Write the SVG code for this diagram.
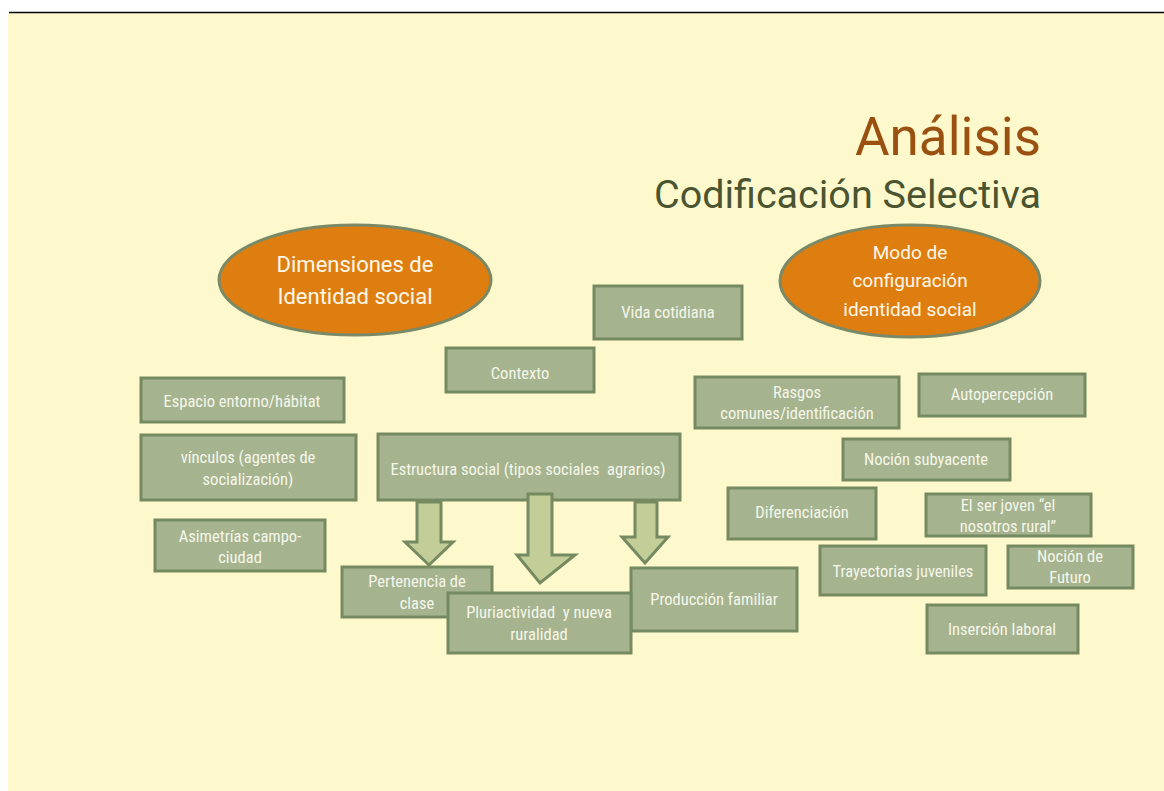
<svg xmlns="http://www.w3.org/2000/svg" width="1164" height="791" viewBox="0 0 1164 791">
  <defs>
    <style>
      .box { fill: #a5b48f; stroke: #768a62; stroke-width: 3; }
      .oval { fill: #de7e10; stroke: #7a8a68; stroke-width: 3; }
      .arrow { fill: #c3cd98; stroke: #758a61; stroke-width: 3; stroke-linejoin: miter; }
      .lbl { font-family: "Liberation Sans Narrow", "Roboto Condensed", "Liberation Sans", sans-serif; font-size: 16.5px; fill: #f6f6ea; text-anchor: middle; white-space: pre; }
      .olbl { font-family: Roboto, "Liberation Sans", sans-serif; fill: #fff8ea; text-anchor: middle; }
      .title { font-family: Roboto, "Liberation Sans", sans-serif; text-anchor: end; }
    </style>
  </defs>

  <!-- page -->
  <rect x="0" y="0" width="1164" height="791" fill="#ffffff"/>
  <rect x="8" y="13" width="1156" height="778" fill="#fef9cc"/>
  <line x1="9" y1="12.5" x2="1164" y2="12.5" stroke="#000" stroke-width="1.5"/>

  <!-- heading -->
  <text class="title" x="1041" y="155" font-size="53" fill="#9a5010">Análisis</text>
  <text class="title" x="1041" y="208" font-size="39.5" fill="#4a5430">Codificación Selectiva</text>

  <!-- category ovals -->
  <g id="dimensiones">
    <ellipse class="oval" cx="355" cy="280" rx="136" ry="55"/>
    <text class="olbl" font-size="22" x="355" y="272">Dimensiones de</text>
    <text class="olbl" font-size="22" x="355" y="304">Identidad social</text>
  </g>
  <g id="modo">
    <ellipse class="oval" cx="910" cy="281" rx="130" ry="56"/>
    <text class="olbl" font-size="19" x="910" y="259">Modo de</text>
    <text class="olbl" font-size="19" x="910" y="287">configuración</text>
    <text class="olbl" font-size="19" x="910" y="316">identidad social</text>
  </g>

  <!-- left column -->
  <g id="vida-cotidiana">
    <rect class="box" x="594" y="286" width="148" height="53"/>
    <text class="lbl" x="668" y="318">Vida cotidiana</text>
  </g>
  <g id="contexto">
    <rect class="box" x="446" y="348" width="148" height="44"/>
    <text class="lbl" x="520" y="379">Contexto</text>
  </g>
  <g id="espacio">
    <rect class="box" x="141" y="378" width="203" height="44"/>
    <text class="lbl" x="242" y="407">Espacio entorno/hábitat</text>
  </g>
  <g id="vinculos">
    <rect class="box" x="141" y="435" width="215" height="65"/>
    <text class="lbl" x="248" y="463">vínculos (agentes de</text>
    <text class="lbl" x="248" y="485">socialización)</text>
  </g>
  <g id="asimetrias">
    <rect class="box" x="155" y="520" width="170" height="51"/>
    <text class="lbl" x="240" y="542">Asimetrías campo-</text>
    <text class="lbl" x="240" y="563">ciudad</text>
  </g>
  <g id="estructura">
    <rect class="box" x="378" y="434" width="302" height="66"/>
    <text class="lbl" x="528" y="475">Estructura social (tipos sociales  agrarios)</text>
  </g>

  <!-- block arrows from the social structure -->
  <g id="connectors">
    <path class="arrow" d="M417,502 H441 V542 H453 L429,565 L405,542 H417 Z"/>
    <path class="arrow" d="M528,494 H552 V555 H575 L540,583 L517,555 H528 Z"/>
    <path class="arrow" d="M635,502 H657 V537 H668 L645,563 L622,537 H635 Z"/>
  </g>

  <g id="pertenencia">
    <rect class="box" x="342" y="567" width="150" height="50"/>
    <text class="lbl" x="417" y="587">Pertenencia de</text>
    <text class="lbl" x="417" y="609">clase</text>
  </g>
  <g id="produccion">
    <rect class="box" x="631" y="568" width="166" height="63"/>
    <text class="lbl" x="714" y="605">Producción familiar</text>
  </g>
  <g id="pluriactividad">
    <rect class="box" x="448" y="593" width="183" height="60"/>
    <text class="lbl" x="539" y="618">Pluriactividad  y nueva</text>
    <text class="lbl" x="539" y="640">ruralidad</text>
  </g>

  <!-- right column -->
  <g id="rasgos">
    <rect class="box" x="695" y="377" width="204" height="51"/>
    <text class="lbl" x="797" y="398">Rasgos</text>
    <text class="lbl" x="797" y="419">comunes/identificación</text>
  </g>
  <g id="autopercepcion">
    <rect class="box" x="919" y="374" width="166" height="42"/>
    <text class="lbl" x="1002" y="400">Autopercepción</text>
  </g>
  <g id="nocion-subyacente">
    <rect class="box" x="843" y="439" width="167" height="41"/>
    <text class="lbl" x="926" y="465">Noción subyacente</text>
  </g>
  <g id="diferenciacion">
    <rect class="box" x="728" y="488" width="148" height="51"/>
    <text class="lbl" x="802" y="518">Diferenciación</text>
  </g>
  <g id="ser-joven">
    <rect class="box" x="926" y="494" width="165" height="42"/>
    <text class="lbl" x="1008" y="511">El ser joven “el</text>
    <text class="lbl" x="1008" y="532">nosotros rural”</text>
  </g>
  <g id="trayectorias">
    <rect class="box" x="820" y="546" width="166" height="49"/>
    <text class="lbl" x="903" y="577">Trayectorias juveniles</text>
  </g>
  <g id="nocion-futuro">
    <rect class="box" x="1008" y="546" width="125" height="42"/>
    <text class="lbl" x="1070" y="562">Noción de</text>
    <text class="lbl" x="1070" y="583">Futuro</text>
  </g>
  <g id="insercion">
    <rect class="box" x="927" y="605" width="151" height="48"/>
    <text class="lbl" x="1002" y="635">Inserción laboral</text>
  </g>
</svg>
